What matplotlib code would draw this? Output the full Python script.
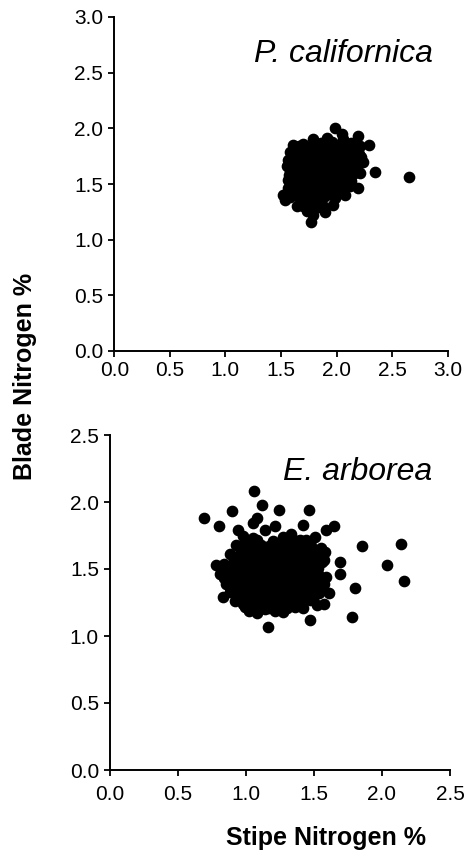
import matplotlib
matplotlib.use("Agg")
import matplotlib.pyplot as plt

plt.rcParams["font.family"] = ["Liberation Sans", "DejaVu Sans"]

# P. californica: stipe N % (x) vs blade N % (y)
pc_stipe = [
    1.99, 1.91, 2.05, 2.19, 1.79, 2.06, 1.61, 2.21, 2.29,
    1.70, 1.86, 1.96, 2.13, 1.74,
    1.58, 1.66, 1.81, 1.89, 1.97, 2.04, 2.10, 2.17,
    1.56, 1.63, 1.71, 1.78, 1.85, 1.92, 2.00, 2.08, 2.15, 2.22,
    1.55, 1.62, 1.69, 1.76, 1.83, 1.90, 1.97, 2.04, 2.11, 2.18, 2.24,
    1.57, 1.64, 1.72, 1.79, 1.86, 1.94, 2.01, 2.08, 2.15, 2.35,
    1.58, 1.66, 1.73, 1.81, 1.88, 1.95, 2.03, 2.12, 2.19,
    1.52, 1.60, 1.68, 1.84, 1.92, 2.00, 2.08,
    1.54, 1.64, 1.70, 1.78, 1.86, 1.97,
    1.73, 1.79, 1.90, 1.84,
    1.77, 2.655,
    1.75, 1.90, 1.95, 1.68, 2.06, 1.62,
    1.66, 1.82, 1.93, 2.01, 2.09, 2.16,
    1.60, 1.77, 1.85, 1.92, 2.01, 2.07, 2.13, 2.20, 1.70,
    1.59, 1.66, 1.74, 1.81, 1.88, 1.95, 2.02, 2.10, 2.17,
    1.58, 1.66, 1.73, 1.80, 1.87, 1.94, 2.00, 2.08, 2.14, 2.21,
    1.56, 1.62, 1.69, 1.77, 1.84, 1.91, 1.99, 2.06, 2.13,
    1.56, 1.66, 1.72, 1.80, 1.88, 1.96, 2.04,
    1.58, 1.66, 1.74, 1.82, 1.90, 1.99,
    1.70, 1.77, 1.88,
]
pc_blade = [
    2.00, 1.91, 1.95, 1.93, 1.90, 1.90, 1.85, 1.84, 1.85,
    1.86, 1.87, 1.88, 1.87, 1.83,
    1.79, 1.80, 1.80, 1.82, 1.79, 1.81, 1.78, 1.80,
    1.72, 1.73, 1.71, 1.74, 1.72, 1.73, 1.71, 1.73, 1.72, 1.74,
    1.66, 1.64, 1.66, 1.65, 1.64, 1.66, 1.65, 1.64, 1.66, 1.64, 1.70,
    1.58, 1.57, 1.59, 1.58, 1.57, 1.59, 1.58, 1.57, 1.59, 1.61,
    1.51, 1.50, 1.52, 1.50, 1.51, 1.49, 1.51, 1.48, 1.46,
    1.40, 1.43, 1.42, 1.42, 1.43, 1.42, 1.40,
    1.36, 1.30, 1.37, 1.34, 1.35, 1.31,
    1.26, 1.22, 1.25, 1.29,
    1.16, 1.56,
    1.46, 1.61, 1.76, 1.76, 1.68, 1.47,
    1.84, 1.85, 1.84, 1.85, 1.83, 1.84,
    1.76, 1.77, 1.76, 1.77, 1.76, 1.75, 1.76, 1.77, 1.80,
    1.69, 1.70, 1.69, 1.68, 1.69, 1.70, 1.69, 1.68, 1.69,
    1.62, 1.61, 1.62, 1.63, 1.62, 1.61, 1.62, 1.61, 1.62, 1.60,
    1.54, 1.55, 1.54, 1.55, 1.54, 1.55, 1.54, 1.55, 1.53,
    1.46, 1.46, 1.47, 1.46, 1.47, 1.46, 1.45,
    1.38, 1.38, 1.39, 1.38, 1.39, 1.37,
    1.30, 1.29, 1.30,
]

# E. arborea
ea_stipe = [
    0.69, 0.90, 1.06, 1.12, 1.24, 1.46, 1.42, 1.08, 1.05, 0.80, 0.94,
    1.65, 1.59, 1.85, 2.14, 2.04, 2.16, 1.69, 1.69, 1.80, 1.78, 1.47,
    1.16, 0.83, 0.78, 1.61, 1.57,
    0.98, 1.05, 1.14, 1.21, 1.27, 1.33, 1.40, 1.51, 1.47,
    0.93, 0.99, 1.05, 1.11, 1.17, 1.23, 1.29, 1.35, 1.42, 1.48, 1.55,
    0.88, 0.94, 1.00, 1.06, 1.12, 1.18, 1.24, 1.30, 1.36, 1.42, 1.48, 1.54, 1.58,
    0.84, 0.90, 0.96, 1.02, 1.08, 1.14, 1.20, 1.26, 1.32, 1.38, 1.44, 1.50, 1.56,
    0.81, 0.87, 0.93, 0.99, 1.05, 1.11, 1.17, 1.23, 1.29, 1.35, 1.41, 1.47, 1.53, 1.59,
    0.85, 0.91, 0.97, 1.03, 1.09, 1.15, 1.21, 1.27, 1.33, 1.39, 1.45, 1.51, 1.57,
    0.88, 0.94, 1.00, 1.06, 1.12, 1.18, 1.24, 1.30, 1.36, 1.42, 1.48, 1.54,
    0.92, 0.98, 1.04, 1.10, 1.16, 1.22, 1.28, 1.34, 1.40, 1.47, 1.52,
    1.02, 1.08, 1.14, 1.21, 1.27,
    1.02, 1.08, 1.20, 1.26, 1.32, 1.38, 1.44,
    0.96, 1.02, 1.08, 1.14, 1.20, 1.26, 1.32, 1.38, 1.45, 1.51,
    0.91, 0.97, 1.03, 1.09, 1.15, 1.21, 1.27, 1.33, 1.39, 1.45, 1.51, 1.57,
    0.87, 0.93, 0.99, 1.05, 1.11, 1.17, 1.23, 1.29, 1.35, 1.41, 1.47, 1.53,
    0.84, 0.90, 0.96, 1.02, 1.08, 1.14, 1.20, 1.26, 1.32, 1.38, 1.44, 1.50, 1.56,
    0.88, 0.94, 1.00, 1.06, 1.12, 1.18, 1.24, 1.30, 1.36, 1.42, 1.48, 1.54,
    0.95, 1.01, 1.07, 1.13, 1.19, 1.25, 1.31, 1.37, 1.44, 1.50,
    0.99, 1.05, 1.11, 1.17, 1.24, 1.30, 1.36, 1.42,
]
ea_blade = [
    1.88, 1.93, 2.08, 1.98, 1.94, 1.94, 1.83, 1.88, 1.84, 1.82, 1.79,
    1.82, 1.79, 1.67, 1.69, 1.53, 1.41, 1.55, 1.46, 1.36, 1.14, 1.12,
    1.07, 1.29, 1.53, 1.32, 1.24,
    1.75, 1.73, 1.79, 1.82, 1.74, 1.76, 1.72, 1.74, 1.70,
    1.68, 1.70, 1.66, 1.68, 1.67, 1.69, 1.66, 1.68, 1.65, 1.67, 1.66,
    1.61, 1.60, 1.62, 1.59, 1.61, 1.60, 1.62, 1.59, 1.61, 1.59, 1.61, 1.60, 1.63,
    1.54, 1.52, 1.54, 1.53, 1.55, 1.52, 1.54, 1.53, 1.55, 1.52, 1.54, 1.53, 1.55,
    1.46, 1.47, 1.45, 1.47, 1.46, 1.48, 1.45, 1.47, 1.46, 1.48, 1.45, 1.47, 1.46, 1.44,
    1.39, 1.40, 1.38, 1.40, 1.39, 1.41, 1.38, 1.40, 1.39, 1.41, 1.38, 1.40, 1.39,
    1.33, 1.31, 1.33, 1.32, 1.34, 1.31, 1.33, 1.32, 1.34, 1.31, 1.33, 1.32,
    1.26, 1.24, 1.26, 1.25, 1.27, 1.24, 1.26, 1.25, 1.27, 1.27, 1.23,
    1.19, 1.17, 1.20, 1.19, 1.18,
    1.71, 1.72, 1.71, 1.70, 1.72, 1.71, 1.72,
    1.64, 1.63, 1.65, 1.64, 1.63, 1.65, 1.64, 1.63, 1.64, 1.63,
    1.57, 1.56, 1.57, 1.58, 1.56, 1.57, 1.58, 1.56, 1.57, 1.56, 1.58, 1.57,
    1.50, 1.51, 1.50, 1.49, 1.51, 1.50, 1.49, 1.51, 1.50, 1.49, 1.50, 1.51,
    1.43, 1.42, 1.43, 1.44, 1.42, 1.43, 1.44, 1.42, 1.43, 1.44, 1.42, 1.43, 1.42,
    1.36, 1.35, 1.36, 1.37, 1.35, 1.36, 1.37, 1.35, 1.36, 1.37, 1.35, 1.36,
    1.29, 1.28, 1.29, 1.30, 1.28, 1.29, 1.30, 1.28, 1.29, 1.30,
    1.22, 1.21, 1.22, 1.21, 1.22, 1.21, 1.22, 1.21,
]

top_ticks = [0.0, 0.5, 1.0, 1.5, 2.0, 2.5, 3.0]
bottom_ticks = [0.0, 0.5, 1.0, 1.5, 2.0, 2.5]

W, H = 467, 864
fig = plt.figure(figsize=(W / 100, H / 100), dpi=100)

ax1 = fig.add_axes([114.3 / W, 1 - 351 / H, 333.4 / W, 334 / H])
ax2 = fig.add_axes([110 / W, 1 - 770 / H, 340 / W, 335 / H])


def style(ax, ticks, xpad):
    ax.set_xlim(ticks[0], ticks[-1])
    ax.set_ylim(ticks[0], ticks[-1])
    ax.set_xticks(ticks)
    ax.set_yticks(ticks)
    ax.set_xticklabels([f"{t:.1f}" for t in ticks])
    ax.set_yticklabels([f"{t:.1f}" for t in ticks])
    ax.spines["top"].set_visible(False)
    ax.spines["right"].set_visible(False)
    for side in ("left", "bottom"):
        ax.spines[side].set_linewidth(1.4)
    ax.tick_params(axis="both", direction="out", length=4, width=1.3,
                   labelsize=15, colors="black")
    ax.tick_params(axis="x", pad=xpad)
    ax.tick_params(axis="y", pad=4)


ax1.plot(pc_stipe, pc_blade, "o", color="black", markersize=7.4, clip_on=False)
style(ax1, top_ticks, 3.5)
ax1.text(0.956, 0.865, "P. californica", transform=ax1.transAxes,
         ha="right", va="baseline", fontsize=23, style="italic")

ax2.plot(ea_stipe, ea_blade, "o", color="black", markersize=7.4, clip_on=False)
style(ax2, bottom_ticks, 7)
ax2.text(0.947, 0.866, "E. arborea", transform=ax2.transAxes,
         ha="right", va="baseline", fontsize=23, style="italic")

fig.text(25 / W, 1 - 376 / H, "Blade Nitrogen %", rotation=90,
         ha="center", va="center", fontsize=18, fontweight="bold")
fig.text(326 / W, 1 - 845 / H, "Stipe Nitrogen %", ha="center",
         va="baseline", fontsize=18, fontweight="bold")

fig.savefig("out.png", dpi=100)
